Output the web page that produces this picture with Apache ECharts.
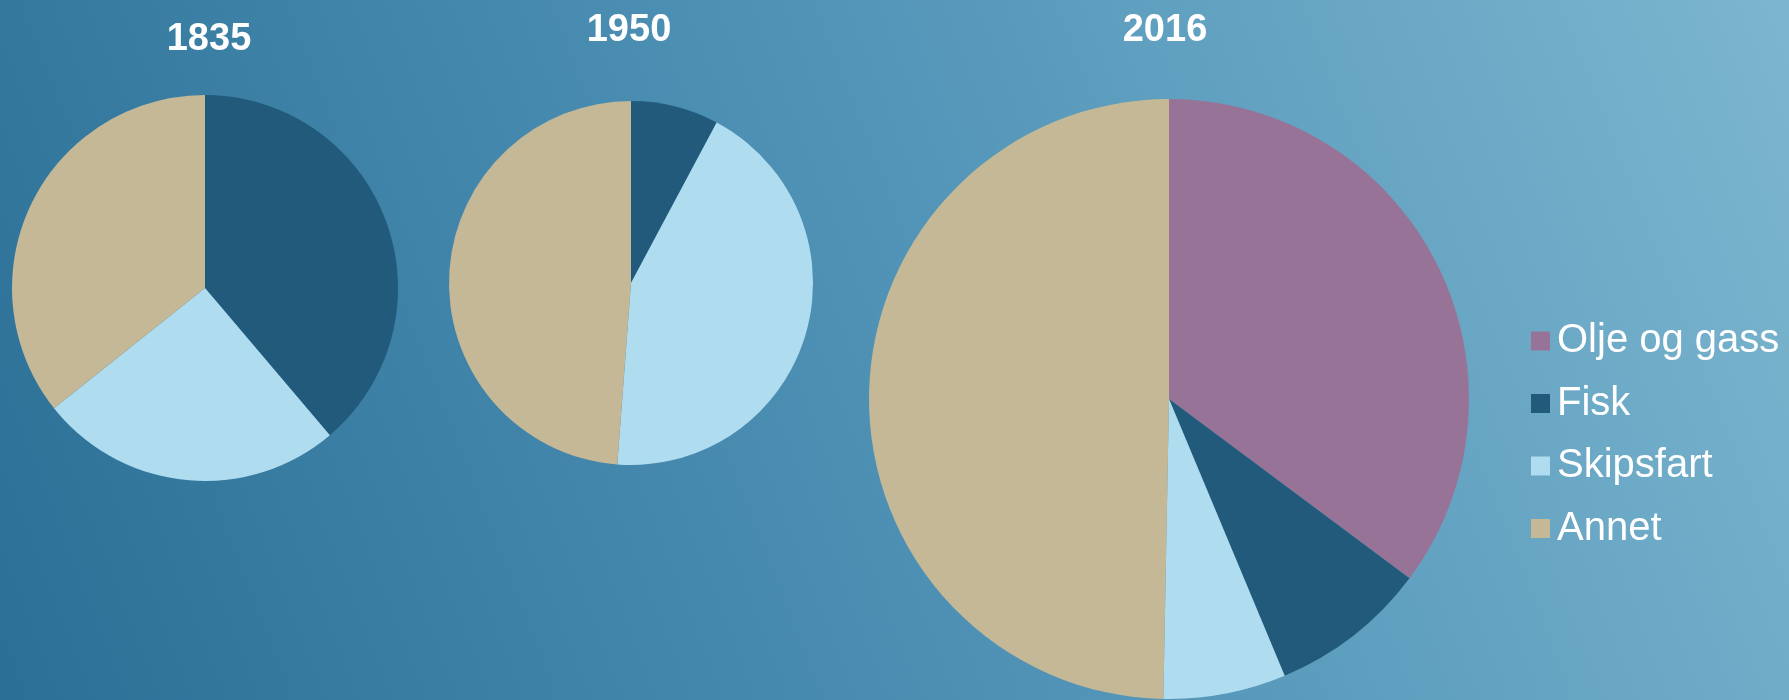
<!DOCTYPE html>
<html>
<head>
<meta charset="utf-8">
<script src="https://cdn.jsdelivr.net/npm/echarts@6/dist/echarts.min.js"></script>
<style>
html,body{margin:0;padding:0;}
#c{width:1789px;height:700px;}
</style>
</head>
<body>
<div id="c"></div>
<script>
const categories = ['Olje og gass', 'Fisk', 'Skipsfart', 'Annet'];
const years = ['1835', '1950', '2016'];
const values1835 = [0, 38.8, 25.5, 35.7];
const values1950 = [0, 7.8, 43.4, 48.8];
const values2016 = [35.2, 8.5, 6.6, 49.7];
const colors = ['#977497', '#215a7a', '#afdcef', '#c4b896'];

const allValues = [values1835, values1950, values2016];
const centers = [[205, 288], [631, 283], [1169, 399]];
const radii = [193, 182, 300];
const titlePos = [[209, 21], [629, 12], [1165, 12]];

const chart = echarts.init(document.getElementById('c'));
chart.setOption({
  backgroundColor: new echarts.graphic.LinearGradient(0, 1, 1, 0, [
    {offset: 0, color: '#2b6f96'},
    {offset: 0.5, color: '#4f92b6'},
    {offset: 1, color: '#7cb6cf'}
  ]),
  color: colors,
  animation: false,
  title: years.map((y, i) => ({
    text: y,
    left: titlePos[i][0],
    top: titlePos[i][1],
    textAlign: 'center',
    padding: 0,
    textStyle: {color: '#ffffff', fontSize: 38, fontWeight: 'bold', fontFamily: 'Liberation Sans'}
  })),
  legend: {
    orient: 'vertical',
    left: 1526,
    top: 316,
    itemWidth: 19,
    itemHeight: 19,
    itemGap: 22.5,
    icon: 'rect',
    data: categories,
    textStyle: {color: '#ffffff', fontSize: 40, fontFamily: 'Liberation Sans', padding: [0, 0, 0, 2]},
    selectedMode: false
  },
  series: allValues.map((vals, i) => ({
    type: 'pie',
    name: years[i],
    center: centers[i],
    radius: [0, radii[i]],
    startAngle: 90,
    clockwise: true,
    silent: true,
    label: {show: false},
    labelLine: {show: false},
    itemStyle: {borderWidth: 0},
    data: categories.map((c, j) => ({name: c, value: vals[j]}))
  }))
});
</script>
</body>
</html>
